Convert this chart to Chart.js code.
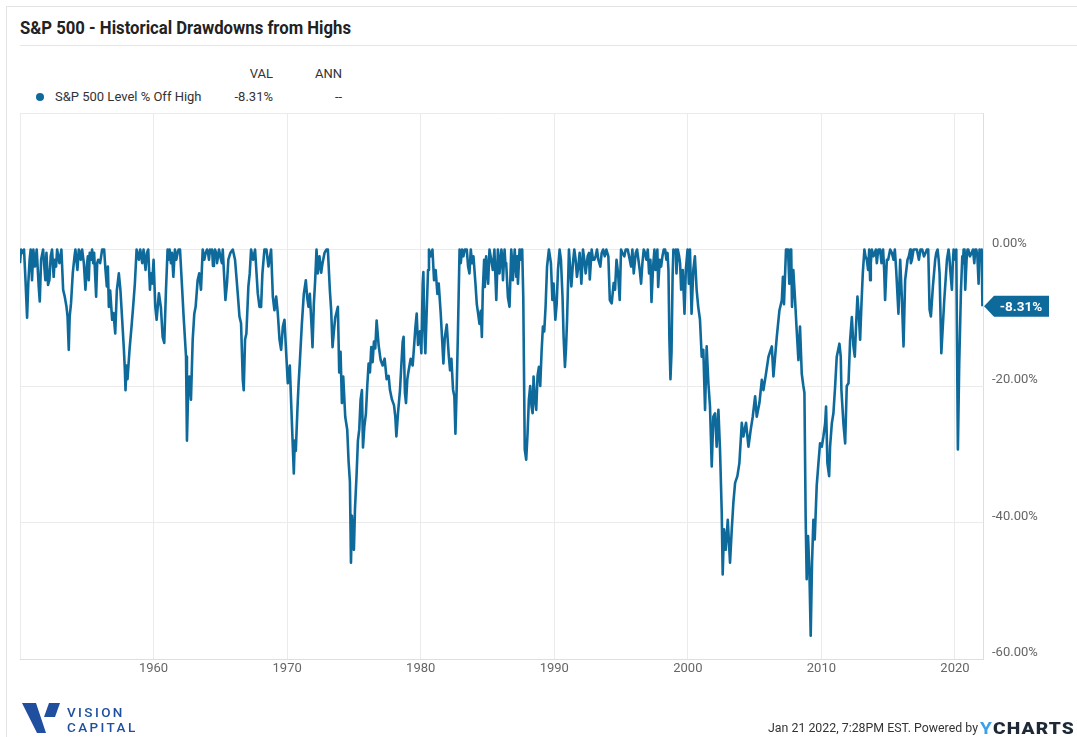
<!DOCTYPE html>
<html><head><meta charset="utf-8">
<script src="https://cdn.jsdelivr.net/npm/chart.js@4.4.1/dist/chart.umd.min.js"></script>
<style>
html,body{margin:0;padding:0;background:#fff;}
body{width:1077px;height:737px;position:relative;overflow:hidden;font-family:Roboto,"Noto Sans",sans-serif;color:#333;}
#card{position:absolute;left:6px;top:6px;width:1090px;height:760px;border-left:1px solid #e4e4e4;border-top:1px solid #e4e4e4;}
#title{position:absolute;left:20px;top:17px;font-weight:700;font-size:18px;line-height:22px;color:#222;white-space:nowrap;transform-origin:0 0;}
#sep{position:absolute;left:20px;top:45px;width:1057px;height:1px;background:#e6e6e6;}
.t{position:absolute;white-space:nowrap;font-size:13px;line-height:16px;color:#333;transform-origin:0 0;}
#dot{position:absolute;left:36px;top:93px;width:8px;height:8px;border-radius:50%;background:#0f6a9c;}
canvas{position:absolute;left:0;top:0;}
#vc1,#vc2{position:absolute;left:67px;font-size:13.5px;line-height:14px;font-weight:500;letter-spacing:2.4px;color:#1f4f9e;white-space:nowrap;}
#stamp{position:absolute;left:768px;top:721px;font-size:12px;line-height:15px;color:#333;white-space:nowrap;transform-origin:0 0;}
#ych{position:absolute;left:980px;top:719px;font-size:17px;line-height:18px;font-weight:900;color:#1d2a36;white-space:nowrap;letter-spacing:1px;transform-origin:0 0;}
#ych span{color:#3aa0e8;font-weight:700;}
</style></head>
<body>
<div id="card"></div>
<div id="title">S&amp;P 500 - Historical Drawdowns from Highs</div>
<div id="sep"></div>
<div class="t" style="left:240px;top:66px;width:33px;text-align:right">VAL</div>
<div class="t" style="left:315px;top:66px;">ANN</div>
<div id="dot"></div>
<div class="t" style="left:55px;top:89px;">S&amp;P 500 Level % Off High</div>
<div class="t" style="left:213px;top:89px;width:60px;text-align:right">-8.31%</div>
<div class="t" style="left:335px;top:89px;">--</div>
<canvas id="c" width="1077" height="737"></canvas>
<svg style="position:absolute;left:0;top:0" width="120" height="737">
  <polygon points="22,703 36,703 46,733 37,733" fill="#1f4f9e"/>
  <polygon points="49,703 60,703 55,717 44,717" fill="#1f4f9e"/>
</svg>
<div id="vc1" style="top:705px">VISION</div>
<div id="vc2" style="top:720px">CAPITAL</div>
<div id="stamp">Jan 21 2022, 7:28PM EST. Powered by</div>
<div id="ych"><span>Y</span>CHARTS</div>
<script>
// ---- data (decimal year, % off high) ----
const dates = [
1950.00,1950.08,1950.2,1950.3,1950.4,1950.53,1950.62,1950.72,1950.8,1950.9,
1951.0,1951.12,1951.25,1951.4,1951.48,1951.58,1951.73,1951.82,1951.9,1951.98,
1952.1,1952.2,1952.3,1952.4,1952.52,1952.6,1952.7,1952.78,1952.95,1953.1,
1953.23,1953.35,1953.48,1953.56,1953.65,1953.72,1953.82,1953.95,1954.08,1954.15,
1954.3,1954.4,1954.55,1954.65,1954.78,1954.9,1955.0,1955.15,1955.3,1955.4,
1955.55,1955.7,1955.78,1955.85,1956.0,1956.15,1956.3,1956.4,1956.5,1956.58,
1956.65,1956.75,1956.9,1957.0,1957.13,1957.25,1957.4,1957.52,1957.65,1957.78,
1957.85,1957.9,1957.98,1958.05,1958.2,1958.35,1958.47,1958.6,1958.73,1958.9,
1959.0,1959.15,1959.25,1959.4,1959.5,1959.6,1959.73,1959.8,1959.9,1960.0,
1960.13,1960.23,1960.4,1960.55,1960.68,1960.8,1960.93,1961.05,1961.2,1961.3,
1961.48,1961.6,1961.8,1961.98,1962.13,1962.25,1962.43,1962.5,1962.58,1962.68,
1962.8,1962.93,1963.05,1963.15,1963.3,1963.42,1963.55,1963.68,1963.8,1963.9,
1964.0,1964.15,1964.3,1964.45,1964.6,1964.75,1964.9,1965.05,1965.18,1965.38,
1965.5,1965.6,1965.75,1965.93,1966.1,1966.3,1966.43,1966.55,1966.68,1966.75,
1966.85,1966.95,1967.1,1967.2,1967.3,1967.45,1967.6,1967.8,1967.93,1968.05,
1968.15,1968.3,1968.45,1968.6,1968.8,1968.93,1969.05,1969.18,1969.3,1969.43,
1969.55,1969.68,1969.8,1969.93,1970.05,1970.2,1970.35,1970.5,1970.57,1970.65,
1970.78,1970.85,1970.95,1971.1,1971.25,1971.4,1971.5,1971.6,1971.7,1971.85,
1971.9,1972.0,1972.1,1972.2,1972.3,1972.42,1972.55,1972.65,1972.8,1972.95,
1973.05,1973.2,1973.3,1973.4,1973.5,1973.6,1973.8,1973.9,1974.0,1974.1,
1974.2,1974.35,1974.5,1974.6,1974.7,1974.78,1974.85,1974.93,1975.0,1975.08,
1975.2,1975.3,1975.4,1975.5,1975.6,1975.68,1975.78,1975.9,1976.0,1976.1,
1976.2,1976.3,1976.4,1976.5,1976.6,1976.7,1976.85,1977.0,1977.15,1977.3,
1977.45,1977.6,1977.7,1977.85,1978.0,1978.1,1978.18,1978.3,1978.45,1978.55,
1978.65,1978.72,1978.82,1978.9,1979.0,1979.1,1979.25,1979.4,1979.5,1979.6,
1979.7,1979.8,1979.95,1980.05,1980.15,1980.2,1980.28,1980.35,1980.45,1980.55,
1980.62,1980.75,1980.88,1981.0,1981.12,1981.25,1981.35,1981.5,1981.6,1981.7,
1981.8,1981.95,1982.1,1982.2,1982.3,1982.42,1982.52,1982.6,1982.7,1982.79,
1982.91,1983.0,1983.1,1983.2,1983.3,1983.45,1983.55,1983.65,1983.75,1983.85,
1983.95,1984.1,1984.2,1984.3,1984.4,1984.5,1984.58,1984.65,1984.75,1984.8,
1984.9,1985.05,1985.15,1985.4,1985.66,1985.78,1985.9,1986.04,1986.16,1986.28,
1986.4,1986.53,1986.65,1986.78,1986.9,1987.04,1987.16,1987.28,1987.4,1987.55,
1987.68,1987.79,1987.9,1988.0,1988.1,1988.2,1988.3,1988.38,1988.45,1988.55,
1988.65,1988.75,1988.85,1988.95,1989.05,1989.15,1989.25,1989.35,1989.46,1989.6,
1989.75,1989.86,1989.95,1990.08,1990.18,1990.28,1990.4,1990.5,1990.62,1990.7,
1990.8,1990.88,1990.96,1991.1,1991.28,1991.4,1991.5,1991.7,1991.9,1992.03,
1992.15,1992.35,1992.5,1992.66,1992.8,1993.0,1993.2,1993.45,1993.66,1993.9,
1994.05,1994.16,1994.3,1994.45,1994.55,1994.66,1994.78,1994.9,1995.0,1995.25,
1995.5,1995.75,1995.95,1996.1,1996.3,1996.5,1996.7,1996.9,1997.1,1997.28,
1997.4,1997.5,1997.65,1997.78,1997.9,1998.0,1998.2,1998.4,1998.55,1998.62,
1998.7,1998.78,1998.86,1998.92,1999.05,1999.15,1999.25,1999.35,1999.5,1999.62,
1999.75,1999.85,1999.98,2000.08,2000.16,2000.28,2000.41,2000.53,2000.66,2000.78,
2000.91,2001.04,2001.16,2001.29,2001.41,2001.54,2001.66,2001.79,2001.91,2002.04,
2002.16,2002.29,2002.41,2002.54,2002.61,2002.71,2002.84,2002.99,2003.16,2003.29,
2003.41,2003.54,2003.71,2003.86,2004.04,2004.16,2004.36,2004.54,2004.71,2004.86,
2005.04,2005.16,2005.36,2005.54,2005.66,2005.86,2006.04,2006.29,2006.41,2006.66,
2006.86,2007.04,2007.12,2007.2,2007.35,2007.5,2007.6,2007.68,2007.74,2007.8,
2007.9,2008.03,2008.15,2008.28,2008.4,2008.53,2008.65,2008.73,2008.82,2008.9,
2009.0,2009.1,2009.2,2009.3,2009.4,2009.5,2009.65,2009.78,2009.9,2010.03,
2010.15,2010.28,2010.35,2010.45,2010.58,2010.65,2010.78,2010.9,2011.03,2011.15,
2011.35,2011.45,2011.5,2011.65,2011.78,2011.9,2012.03,2012.15,2012.28,2012.4,
2012.5,2012.6,2012.7,2012.8,2012.9,2013.0,2013.1,2013.22,2013.4,2013.5,
2013.65,2013.78,2014.0,2014.15,2014.28,2014.5,2014.77,2014.9,2015.15,2015.4,
2015.6,2015.77,2015.9,2016.02,2016.15,2016.27,2016.45,2016.65,2016.78,2017.0,
2017.3,2017.55,2017.8,2018.0,2018.1,2018.2,2018.35,2018.52,2018.7,2018.85,
2018.98,2019.2,2019.3,2019.52,2019.65,2019.77,2019.9,2020.1,2020.22,2020.32,
2020.45,2020.55,2020.65,2020.77,2020.87,2021.0,2021.25,2021.45,2021.6,2021.77,
2021.9,2022.0,2022.055
];
const offHigh = [
-2,0,-0.5,0,-4,-10,-5,-1.5,0,-4.5,
0,-2.5,0,-5.4,-7.6,-1.5,0,-2.5,-4.5,-0.5,
-5.2,-4.5,-1,0,-4,-1.5,-2.5,0,-2,0,
-5.9,-6.9,-8.4,-9.8,-14.7,-9.8,-7.9,-3.5,-1,0,
-3,0,-1.5,0,-2,-5.9,-2.5,-4.5,-1.5,0,
-0.5,-6.9,-2,-1.5,-2,0,0,-3,-5.4,-2.5,
-8.4,-6,-10.3,-9.3,-12.3,-6,-3.5,-6,-10.3,-14.7,
-17.6,-20.6,-17,-19,-14.7,-11.3,-8.4,-5,0,-1.5,
0,-2,0,-3,-0.5,0,-5.9,-3.5,-5,-1.5,
-8.4,-10.3,-6.4,-8.5,-12.8,-13.7,-5.9,0,0,-2,
-4,0,-0.5,0,-5.4,-9.8,-15.7,-28,-21.5,-18.6,
-22,-13.2,-9.4,-8.4,-4.5,-3.5,-5.9,0,-1.5,-0.5,
0,-1.5,-0.5,-2.4,0,-2,0,-1.5,0,-7.4,
-4.9,-1.5,-0.5,0,-1.5,-6.4,-9.8,-10.8,-19.1,-20.6,
-13.2,-12.3,-5.4,-3.5,0,-1.5,0,-6.4,-8.4,-8.4,
-3.5,0,0,-2.5,0,-6.9,-8.9,-6.9,-9.3,-13.2,
-14.7,-11.3,-10.3,-15.2,-19.6,-17,-25,-32.8,-28,-29.5,
-23,-20,-16.5,-11,-6.5,-4.5,-7,-8.4,-6.5,-12,
-14.3,-8,-4.5,0,-3.5,-1,-3.4,-2,-0.5,0,
0,-6,-9,-14.3,-12,-10,-8.4,-18,-15,-22.5,
-18.6,-24.5,-26.4,-31,-34,-45.9,-39,-42,-44,-38,
-33,-28,-26.4,-22,-20.6,-29,-26,-24,-20,-16.7,
-18,-14.3,-16.5,-13.5,-14.5,-10.4,-14,-16.2,-17,-16,
-19,-18.5,-20.6,-22,-22.8,-24.5,-27.4,-24,-20.6,-17,
-13.5,-12.8,-21,-22.5,-19,-17.7,-16,-17,-14.3,-11.5,
-9.4,-14,-12,-15.2,-5,-3.3,-12,-15.2,-9,-3,
0,-1,0,-4.5,-3,-6.5,-5,-9.4,-13,-16.7,
-13,-11,-15.5,-17.7,-16,-20.5,-21.5,-27,-20,-12,
0,-2,0,-1,0,0,-2.5,-3.5,0,-2,
-1,-5,-8,-9.4,-10.9,-9,-12.8,-6,-1.5,-5.5,
-1,-5,0,-3,-7.4,0,-3.5,0,-4.5,0,
-2,-7,-8.4,0,-4.5,0,-4,-5,0,0,
-7,-29.3,-30.8,-27,-22,-20,-23,-24,-18.6,-22,
-23.5,-18.5,-17.2,-20,-15,-11.3,-12,-8.4,-2.5,0,
-2,-7.4,-5,-10.3,-8,-3,0,-1.5,-7,-12.8,
-17.2,-14.5,-10.3,0,-5.4,-2,0,-4,-0.5,-5,
0,-3.5,-1,-4.4,0,-1.5,0,-2.5,0,0,
-1,-7.4,-7.9,-4.9,-5.9,-1.5,-3.5,-7.4,0,-1,
0,-2.5,-3.5,-0.5,-1.5,-5,0,-1.5,-3.5,-7.7,
-2.5,0,-2,-5.5,-1.5,-2.5,0,-1.5,-3,-13.2,
-19,-15,-4,0,-0.5,-3.5,0,-1,-5.9,-3,
-9.4,-3,0,-5,0,-9.4,-3,-1,-5.9,-8.4,
-10.3,-15.7,-14.7,-23.5,-14.2,-19.6,-23,-31.8,-24.5,-24,
-28.9,-23.5,-29.3,-38.6,-47.6,-41,-44,-39.6,-45.9,-41,
-37.1,-34.2,-33.2,-31.3,-25.4,-27.4,-25.4,-28.9,-26.4,-24.5,
-21.5,-24.5,-22.5,-19.1,-20.6,-18.1,-15.7,-14.2,-18.6,-12.8,
-8.9,-7.4,-4,-8,0,0,-5,0,0,-8.4,
-3,-7.4,-11.8,-16.2,-11.3,-18.2,-20,-21,-39,-48.3,
-42,-46.9,-56.6,-45.9,-39.6,-42.5,-34.6,-31.3,-28.4,-28.9,
-27.4,-25.5,-23,-31.3,-33.2,-28.9,-25.5,-24,-20,-15.7,
-13.8,-15.7,-20.6,-25.5,-28.4,-20,-19.6,-13.3,-9.9,-14.2,
-15.7,-11,-6.9,-9.5,-13.2,-8,-3.5,0,-1.5,-3,
-4.5,0,-0.5,-2,0,-2,-7.4,-1.5,0,-1.5,
-3,-9.4,-1.5,-6.9,-14.2,-4.5,-1.5,0,-1.5,0,
-1.5,0,-0.5,0,-8.8,-9.8,-5.4,-1.5,0,-3.5,
-15.2,-7.4,-4.5,0,-3,-5.9,0,0,-29.3,-16.7,
-6,-1,0,-5.9,-1.5,0,-0.5,-2,0,-5,
-0.5,0,-8.31
];
// finer wiggles near the highs, also
const moreDates = [
1954.22,1954.48,1955.08,1955.22,1955.48,1959.08,1959.32,1961.12,1961.38,1961.7,1961.88,
1964.08,1964.22,1964.38,1964.52,1964.68,1964.83,1965.12,
1985.28,1985.52,1986.1,1986.34,1986.84,1987.1,1987.22,1987.48,1987.6,
1991.6,1991.8,1992.25,1992.6,1992.9,1993.1,1993.3,1993.55,1993.78,1995.1,1995.35,1995.6,1995.85,
1996.2,1996.4,1996.6,1996.8,1997.0,1997.2,1997.58,1997.72,1998.1,1998.3,1998.48,1999.1,1999.42,
2013.3,2013.58,2013.7,2013.9,2014.08,2014.2,2014.4,2014.62,2014.7,2015.0,2015.28,2015.5,
2016.55,2016.7,2016.9,2017.15,2017.42,2017.68,2017.9,2018.6,2018.78,2019.4,2019.58,2019.84,
2020.02,2020.6,2020.72,2020.94,2021.12,2021.35,2021.52,2021.68,2021.84
];
const moreOffHigh = [
-1.5,-0.5,-1,-0.5,-2,-1,-1.5,-1.5,-0.5,-1.5,0,
-0.5,0,0,-1,-0.5,-1,-2,
-1.5,0,-1,-2,-1.5,-2,-1,-1.5,0,
-1.5,-2.5,-1.5,-0.5,-1.5,-1,-1.5,-0.5,-1,-0.5,0,-1,0,
0,-3,-2,-0.5,0,-1.5,-3,0,-1,0,-0.5,0,-2,
-1,0,-2,-1,0,-1,0,0,-3,-1.5,-0.5,0,
-1,-2,0,0,0,-1,0,-0.5,-1.5,-1.5,-1,-2,
-1.5,-2,0,0,-1,0,0,-1,0
];
const xTicks = [1950,1960,1970,1980,1990,2000,2010,2020];
const yTicks = [20,0,-20,-40,-60];

const lineColor = '#0f6a9c';
const gridColor = '#ebebeb';

const points = dates.map((d,i)=>({x:d, y:offHigh[i]}))
  .concat(moreDates.map((d,i)=>({x:d, y:moreOffHigh[i]})))
  .sort((a,b)=>a.x-b.x);
const lastValue = points[points.length-1].y;

const tagPlugin = {
  id:'tag',
  afterDatasetsDraw(chart){
    const ctx = chart.ctx, ys = chart.scales.y;
    const y = ys.getPixelForValue(lastValue);
    const x0 = chart.chartArea.right + 1;
    ctx.save();
    ctx.fillStyle = lineColor;
    ctx.beginPath();
    ctx.moveTo(x0, y);
    ctx.lineTo(x0+10, y-10.5);
    ctx.lineTo(x0+65, y-10.5);
    ctx.lineTo(x0+65, y+10.5);
    ctx.lineTo(x0+10, y+10.5);
    ctx.closePath();
    ctx.fill();
    ctx.fillStyle = '#fff';
    ctx.font = 'bold 13.5px Roboto';
    ctx.textAlign = 'center';
    ctx.textBaseline = 'middle';
    ctx.fillText(lastValue.toFixed(2)+'%', x0+37, y+1);
    ctx.restore();
  }
};

new Chart(document.getElementById('c'), {
  type:'line',
  data:{ datasets:[{
    data: points,
    borderColor: lineColor, borderWidth: 2.6, pointRadius:0, tension:0, fill:false,
    borderJoinStyle:'round'
  }]},
  options:{
    responsive:false, animation:false, devicePixelRatio:1,
    layout:{padding:{left:20, top:113, right:0, bottom:48}},
    plugins:{legend:{display:false}, tooltip:{enabled:false}},
    scales:{
      x:{type:'linear', min:1950, max:2022.1,
        afterBuildTicks(s){ s.ticks = xTicks.map(v=>({value:v})); },
        afterFit(s){ s.height = 30; },
        grid:{color:gridColor, drawTicks:false},
        border:{color:'#dedede'},
        ticks:{padding:2, color:'#666', font:{family:'Roboto', size:13},
          callback:(v)=> v===1950 ? '' : String(v)}
      },
      y:{position:'right', min:-60, max:20,
        afterBuildTicks(s){ s.ticks = yTicks.map(v=>({value:v})); },
        afterFit(s){ s.width = 94; },
        grid:{color:gridColor, drawTicks:false},
        border:{color:'#dedede'},
        ticks:{padding:9, labelOffset:-6, color:'#666', font:{family:'Roboto', size:13},
          callback:(v)=> v>0 ? '' : v.toFixed(2)+'%'}
      }
    }
  },
  plugins:[tagPlugin]
});

function fit(id, w){
  const el = document.getElementById(id);
  const cw = el.getBoundingClientRect().width;
  if (cw>0) el.style.transform = 'scaleX('+(w/cw)+')';
}
fit('title', 331);
fit('stamp', 210);
fit('ych', 95);
</script>
</body></html>
